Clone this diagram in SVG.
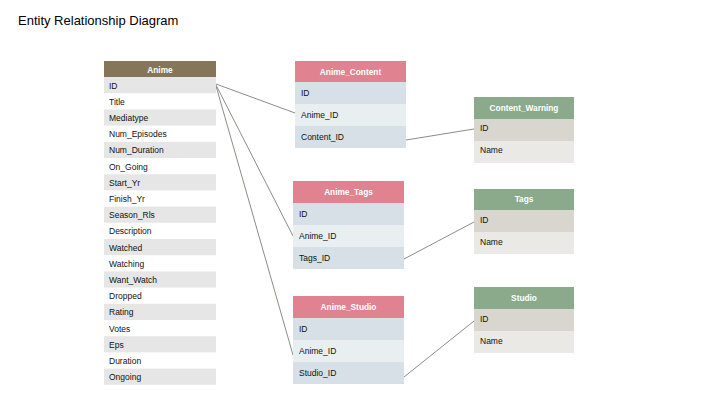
<svg xmlns="http://www.w3.org/2000/svg" width="720" height="405" viewBox="0 0 720 405">
<style>
text{font-family:"Liberation Sans",Arial,sans-serif;font-size:8.5px;fill:#111}
.title{font-size:13px;fill:#000}
.hd{font-weight:bold;fill:#fff;text-anchor:middle;font-size:8.3px}
.hA{fill:#857659}.hP{fill:#e08290}.hG{fill:#8aaa8b}
.g{fill:#e6e6e6}.w{fill:#fff}
.b1{fill:#d6e0e6}.b2{fill:#e9eef1}
.n1{fill:#d9d6d0}.n2{fill:#ebe9e6}
.ln{stroke:#8c8c88;stroke-width:1;fill:none}
</style>
<rect width="720" height="405" fill="#fff"/>
<text class="title" x="18" y="25">Entity Relationship Diagram</text>
<g id="connectors">
<line class="ln" x1="216" y1="84" x2="295" y2="113"/>
<line class="ln" x1="216" y1="85" x2="293" y2="236"/>
<line class="ln" x1="216" y1="86" x2="293" y2="355"/>
<line class="ln" x1="406" y1="140" x2="474" y2="129"/>
<line class="ln" x1="404" y1="259" x2="474" y2="222"/>
<line class="ln" x1="404" y1="377" x2="474" y2="321"/>
</g>
<g id="anime">
<rect class="hA" x="104" y="61" width="112" height="16"/>
<text class="hd" x="160" y="72.5">Anime</text>
<rect class="g" x="104" y="77" width="112" height="16.2"/>
<rect class="g" x="104" y="109.4" width="112" height="16.2"/>
<rect class="g" x="104" y="141.8" width="112" height="16.2"/>
<rect class="g" x="104" y="174.2" width="112" height="16.2"/>
<rect class="g" x="104" y="206.6" width="112" height="16.2"/>
<rect class="g" x="104" y="239" width="112" height="16.2"/>
<rect class="g" x="104" y="271.4" width="112" height="16.2"/>
<rect class="g" x="104" y="303.8" width="112" height="16.2"/>
<rect class="g" x="104" y="336.2" width="112" height="16.2"/>
<rect class="g" x="104" y="368.6" width="112" height="16.2"/>
<text x="109" y="88.5">ID</text>
<text x="109" y="104.7">Title</text>
<text x="109" y="120.9">Mediatype</text>
<text x="109" y="137.1">Num_Episodes</text>
<text x="109" y="153.3">Num_Duration</text>
<text x="109" y="169.5">On_Going</text>
<text x="109" y="185.7">Start_Yr</text>
<text x="109" y="201.9">Finish_Yr</text>
<text x="109" y="218.1">Season_Rls</text>
<text x="109" y="234.3">Description</text>
<text x="109" y="250.5">Watched</text>
<text x="109" y="266.7">Watching</text>
<text x="109" y="282.9">Want_Watch</text>
<text x="109" y="299.1">Dropped</text>
<text x="109" y="315.3">Rating</text>
<text x="109" y="331.5">Votes</text>
<text x="109" y="347.7">Eps</text>
<text x="109" y="363.9">Duration</text>
<text x="109" y="380.1">Ongoing</text>
</g>
<g id="anime_content">
<rect class="hP" x="295" y="61" width="111" height="21"/>
<text class="hd" x="350.5" y="74.5">Anime_Content</text>
<rect class="b1" x="295" y="82" width="111" height="22"/>
<rect class="b2" x="295" y="104" width="111" height="22"/>
<rect class="b1" x="295" y="126" width="111" height="22"/>
<text x="301" y="96">ID</text>
<text x="301" y="118">Anime_ID</text>
<text x="301" y="140">Content_ID</text>
</g>
<g id="anime_tags">
<rect class="hP" x="293" y="181" width="111" height="22"/>
<text class="hd" x="348.5" y="195">Anime_Tags</text>
<rect class="b1" x="293" y="203" width="111" height="22"/>
<rect class="b2" x="293" y="225" width="111" height="22"/>
<rect class="b1" x="293" y="247" width="111" height="22"/>
<text x="299" y="216.5">ID</text>
<text x="299" y="238.5">Anime_ID</text>
<text x="299" y="260.5">Tags_ID</text>
</g>
<g id="anime_studio">
<rect class="hP" x="293" y="296" width="111" height="22"/>
<text class="hd" x="348.5" y="310">Anime_Studio</text>
<rect class="b1" x="293" y="318" width="111" height="22"/>
<rect class="b2" x="293" y="340" width="111" height="22"/>
<rect class="b1" x="293" y="362" width="111" height="22"/>
<text x="299" y="331.5">ID</text>
<text x="299" y="353.5">Anime_ID</text>
<text x="299" y="375.5">Studio_ID</text>
</g>
<g id="content_warning">
<rect class="hG" x="474" y="97" width="100" height="22"/>
<text class="hd" x="524" y="110.5">Content_Warning</text>
<rect class="n1" x="474" y="119" width="100" height="22"/>
<rect class="n2" x="474" y="141" width="100" height="22"/>
<text x="480" y="131">ID</text>
<text x="480" y="153">Name</text>
</g>
<g id="tags">
<rect class="hG" x="474" y="189" width="100" height="21"/>
<text class="hd" x="524" y="202">Tags</text>
<rect class="n1" x="474" y="210" width="100" height="22"/>
<rect class="n2" x="474" y="232" width="100" height="22"/>
<text x="480" y="223">ID</text>
<text x="480" y="245">Name</text>
</g>
<g id="studio">
<rect class="hG" x="474" y="287" width="100" height="22"/>
<text class="hd" x="524" y="300.5">Studio</text>
<rect class="n1" x="474" y="309" width="100" height="22"/>
<rect class="n2" x="474" y="331" width="100" height="22"/>
<text x="480" y="322">ID</text>
<text x="480" y="344">Name</text>
</g>
</svg>
